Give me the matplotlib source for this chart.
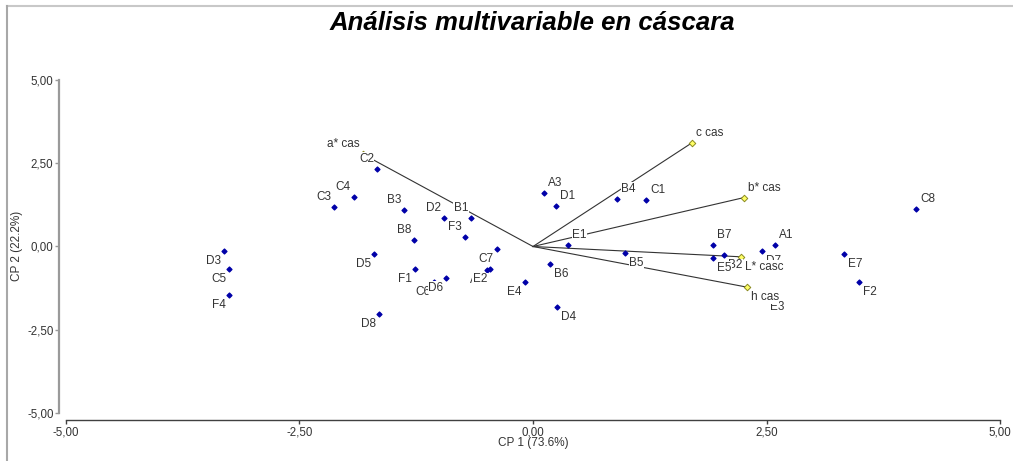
import matplotlib
matplotlib.use('Agg')
import matplotlib.pyplot as plt
from matplotlib.lines import Line2D
from matplotlib.ticker import FuncFormatter

# PCA scores (CP 1, CP 2) per sample
names = ['A1', 'A2', 'A3', 'B1', 'B2', 'B3', 'B4', 'B5', 'B6', 'B7', 'B8',
         'C1', 'C2', 'C3', 'C4', 'C5', 'C6', 'C7', 'C8',
         'D1', 'D2', 'D3', 'D4', 'D5', 'D6', 'D7', 'D8',
         'E1', 'E2', 'E3', 'E4', 'E5', 'E7', 'F1', 'F2', 'F3', 'F4']
pc1 = [2.59, -0.49, 0.12, -0.66, 2.05, -1.38, 0.90, 0.99, 0.18, 1.93, -1.27,
       1.21, -1.67, -2.13, -1.92, -3.25, -1.06, -0.39, 4.10,
       0.25, -0.95, -3.31, 0.26, -1.70, -0.93, 2.45, -1.65,
       0.38, -0.46, 2.49, -0.09, 1.93, 3.33, -1.26, 3.49, -0.73, -3.26]
pc2 = [0.05, -0.71, 1.61, 0.86, -0.27, 1.09, 1.43, -0.20, -0.52, 0.04, 0.20,
       1.40, 2.34, 1.19, 1.49, -0.68, -1.07, -0.08, 1.14,
       1.21, 0.86, -0.14, -1.81, -0.22, -0.94, -0.14, -2.04,
       0.04, -0.68, -1.52, -1.07, -0.34, -0.23, -0.67, -1.07, 0.28, -1.47]

# variable loadings
var_names = ['a* cas', 'c cas', 'b* cas', 'L* casc', 'h cas']
var_x = [-1.82, 1.70, 2.26, 2.23, 2.29]
var_y = [2.77, 3.11, 1.47, -0.31, -1.22]

plt.rcParams['font.family'] = ['Liberation Sans', 'DejaVu Sans']

fig = plt.figure(figsize=(10.13, 4.61), dpi=100)
ax = fig.add_axes([66 / 1013, 1 - 413 / 461, 934 / 1013, 333 / 461])

ax.set_xlim(-5, 5)
ax.set_ylim(-5, 5)
ax.set_xticks([-5, -2.5, 0, 2.5, 5])
ax.set_yticks([-5, -2.5, 0, 2.5, 5])
fmt = FuncFormatter(lambda v, p: f'{v:.2f}'.replace('.', ','))
ax.xaxis.set_major_formatter(fmt)
ax.yaxis.set_major_formatter(fmt)

for s in ['top', 'right']:
    ax.spines[s].set_visible(False)
ax.spines['left'].set_position(('outward', 5))
ax.spines['bottom'].set_position(('outward', 5))
ax.spines['left'].set_color('#9a9a9a')
ax.spines['left'].set_linewidth(1.6)
ax.spines['bottom'].set_color('#404040')
ax.spines['bottom'].set_linewidth(1.0)
ax.tick_params(axis='y', direction='out', length=3, width=1, color='#9a9a9a',
               labelsize=8.3, labelcolor='#333333', pad=1)
ax.tick_params(axis='x', direction='out', length=3, width=1, color='#404040',
               labelsize=8.3, labelcolor='#333333', pad=2)

# loading vectors
for vx, vy in zip(var_x, var_y):
    ax.plot([0, vx], [0, vy], color='#333333', lw=0.8, zorder=2)
ax.scatter(var_x, var_y, marker='D', s=11, facecolor='#ffff66',
           edgecolor='#8a8a20', linewidth=0.7, zorder=4)

# samples
ax.scatter(pc1, pc2, marker='D', s=6, color='#0000a8', zorder=3)


def put_label(x, y, txt):
    dx = 4 if x >= 0 else -3
    dy = 10 if y >= 0 else -10
    ax.annotate(txt, (x, y), xytext=(dx, dy), textcoords='offset pixels',
                ha='left' if x >= 0 else 'right', va='center',
                fontsize=8.5, color='#333333', zorder=5,
                bbox=dict(facecolor='white', edgecolor='none', pad=0.3))


for n, x, y in zip(names, pc1, pc2):
    put_label(x, y, n)
for n, x, y in zip(var_names, var_x, var_y):
    put_label(x, y, n)

fig.text(533 / 1013, 1 - 443 / 461, 'CP 1 (73.6%)', ha='center', va='center',
         fontsize=8.5, color='#333333')
fig.text(17 / 1013, 1 - 246 / 461, 'CP 2 (22.2%)', ha='center', va='center',
         rotation=90, fontsize=8.5, color='#333333')
fig.text(532 / 1013, 1 - 23 / 461, 'Análisis multivariable en cáscara',
         ha='center', va='center', fontsize=18.5, fontweight='bold',
         fontstyle='italic', color='black')

# outer frame
fig.add_artist(Line2D([7 / 1013, 1], [1 - 6 / 461, 1 - 6 / 461],
                      transform=fig.transFigure, color='#c8c8c8', lw=1.5))
fig.add_artist(Line2D([7 / 1013, 7 / 1013], [0, 1 - 6 / 461],
                      transform=fig.transFigure, color='#a8a8a8', lw=1.5))

fig.savefig('out.png', dpi=100)
